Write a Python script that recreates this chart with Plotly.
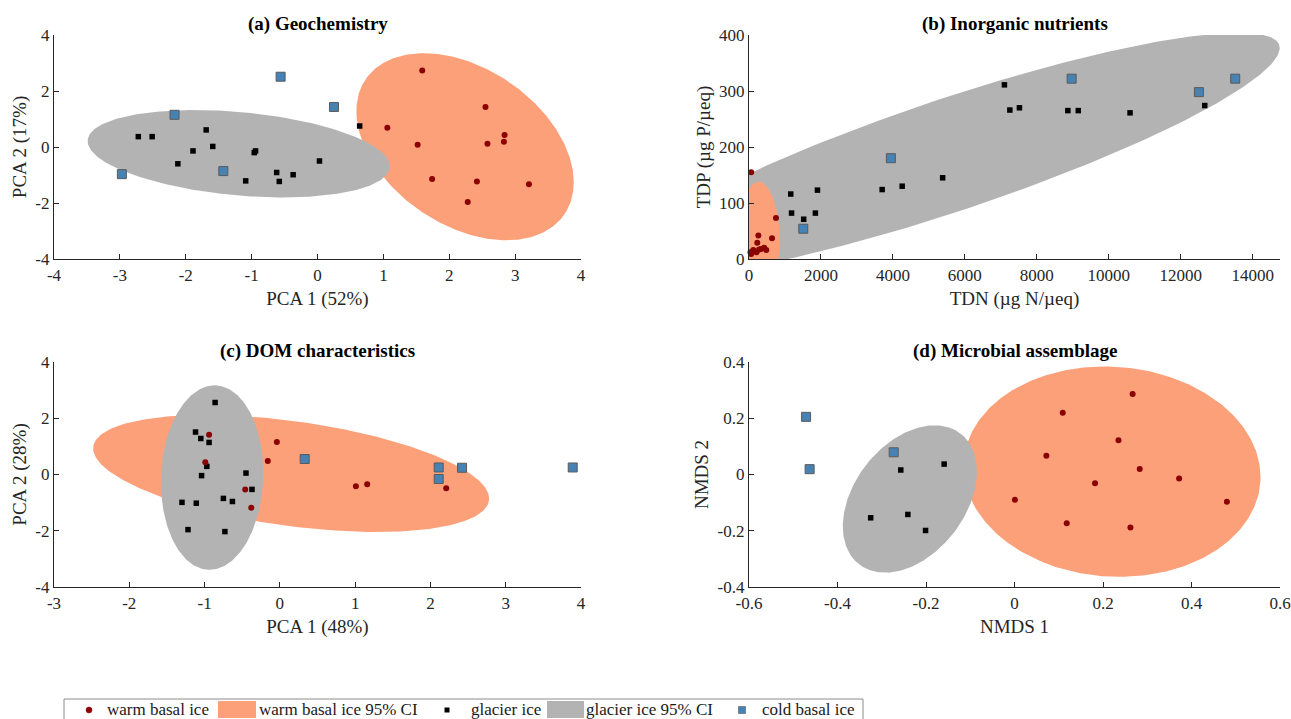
import numpy as np
import plotly.graph_objects as go

# ---------------- data ----------------
# (a) Geochemistry
a_warm_x = [1.59, 2.55, 1.06, 2.84, 2.83, 2.58, 1.52, 1.74, 2.42, 3.21, 2.28]
a_warm_y = [2.73, 1.43, 0.69, 0.43, 0.19, 0.12, 0.08, -1.14, -1.23, -1.33, -1.96]
a_glac_x = [0.64, -2.72, -2.51, -1.69, -1.59, -1.89, -2.12, -0.96, -0.94, 0.03, -0.62, -0.37, -1.09, -0.58]
a_glac_y = [0.75, 0.37, 0.37, 0.61, 0.02, -0.14, -0.60, -0.20, -0.14, -0.50, -0.91, -0.99, -1.21, -1.23]
a_cold_x = [-0.56, 0.25, -2.17, -2.97, -1.43]
a_cold_y = [2.51, 1.43, 1.15, -0.97, -0.86]
# ellipse params: [centre x, centre y, half-width x, half-height y, correlation]
a_warm_ci = [2.24, 0.01, 1.65, 3.34, -0.38]
a_glac_ci = [-1.195, -0.24, 2.295, 1.56, -0.29]

# (b) Inorganic nutrients
b_warm_x = [60, 750, 640, 260, 230, 40, 120, 210, 280, 340, 420, 480, 60]
b_warm_y = [155, 73, 37, 42, 29, 12, 16, 12, 17, 18, 20, 16, 9]
b_glac_x = [1160, 1183, 1520, 1845, 1903, 3701, 4258, 5383, 7100, 7251, 7517, 8863, 9153, 10592, 12668]
b_glac_y = [116, 82, 71, 82, 123, 124, 130, 145, 311, 266, 270, 265, 265, 261, 274]
b_cold_x = [1508, 3944, 8968, 12506, 13515]
b_cold_y = [54, 180, 322, 298, 322]
b_warm_ci = [300, 36, 555, 102, -0.05]
b_glac_ci = [5606, 186, 9146, 218, 0.875]

# (c) DOM characteristics
c_warm_x = [-0.94, -0.99, -0.04, -0.16, -0.46, -0.38, 1.01, 1.16, 2.21]
c_warm_y = [1.41, 0.44, 1.16, 0.48, -0.53, -1.18, -0.42, -0.35, -0.49]
c_glac_x = [-0.86, -1.12, -1.05, -0.94, -0.97, -1.04, -0.45, -0.37, -1.30, -1.11, -0.75, -0.63, -1.22, -0.73]
c_glac_y = [2.56, 1.51, 1.28, 1.14, 0.29, -0.04, 0.05, -0.53, -0.99, -1.02, -0.85, -0.96, -1.96, -2.03]
c_cold_x = [0.33, 2.11, 2.11, 2.42, 3.89]
c_cold_y = [0.55, 0.25, -0.16, 0.24, 0.25]
c_warm_ci = [0.15, 0.035, 2.63, 2.08, -0.43]
c_glac_ci = [-0.90, -0.11, 0.68, 3.28, 0.05]

# (d) Microbial assemblage
d_warm_x = [0.267, 0.109, 0.235, 0.072, 0.283, 0.372, 0.182, 0.001, 0.480, 0.118, 0.262]
d_warm_y = [0.286, 0.220, 0.122, 0.067, 0.020, -0.014, -0.031, -0.090, -0.097, -0.173, -0.188]
d_glac_x = [-0.257, -0.159, -0.325, -0.241, -0.201]
d_glac_y = [0.016, 0.037, -0.154, -0.142, -0.199]
d_cold_x = [-0.471, -0.463, -0.273]
d_cold_y = [0.205, 0.019, 0.079]
d_warm_ci = [0.2205, 0.010, 0.3355, 0.374, -0.05]
d_glac_ci = [-0.2365, -0.087, 0.1515, 0.262, 0.37]

# tick labels
a_xticks = [-4, -3, -2, -1, 0, 1, 2, 3, 4]
a_xlabels = ["-4", "-3", "-2", "-1", "0", "1", "2", "3", "4"]
a_yticks = [-4, -2, 0, 2, 4]
a_ylabels = ["-4", "-2", "0", "2", "4"]
b_xticks = [0, 2000, 4000, 6000, 8000, 10000, 12000, 14000]
b_xlabels = ["0", "2000", "4000", "6000", "8000", "10000", "12000", "14000"]
b_yticks = [0, 100, 200, 300, 400]
b_ylabels = ["0", "100", "200", "300", "400"]
c_xticks = [-3, -2, -1, 0, 1, 2, 3, 4]
c_xlabels = ["-3", "-2", "-1", "0", "1", "2", "3", "4"]
c_yticks = a_yticks
c_ylabels = a_ylabels
d_xticks = [-0.6, -0.4, -0.2, 0, 0.2, 0.4, 0.6]
d_xlabels = ["-0.6", "-0.4", "-0.2", "0", "0.2", "0.4", "0.6"]
d_yticks = [-0.4, -0.2, 0, 0.2, 0.4]
d_ylabels = ["-0.4", "-0.2", "0", "0.2", "0.4"]

titles = ["(a) Geochemistry", "(b) Inorganic nutrients", "(c) DOM characteristics", "(d) Microbial assemblage"]
x_titles = ["PCA 1 (52%)", "TDN (µg N/µeq)", "PCA 1 (48%)", "NMDS 1"]
y_titles = ["PCA 2 (17%)", "TDP (µg P/µeq)", "PCA 2 (28%)", "NMDS 2"]
legend_labels = ["warm basal ice", "warm basal ice 95% CI", "glacier ice", "glacier ice 95% CI", "cold basal ice"]

# ---------------- style ----------------
W, H = 1291, 719
FONT = "Liberation Serif"
AX = "#262626"
WARM = "#8b0000"
WARM_CI = "#fca07a"
GLAC = "#000000"
GLAC_CI = "#b3b3b3"
COLD = "#4682b4"
COLD_EDGE = "#5a5a5a"


def fx(p):
    return p / W


def fy(p):
    return 1 - p / H


left_dom = [fx(54), fx(581)]
right_dom = [fx(749), fx(1280)]
top_dom = [fy(259), fy(35)]
bot_dom = [fy(587), fy(362)]


def ellipse(p, n=300):
    cx, cy, hx, hy, r = p
    t = np.linspace(0, 2 * np.pi, n)
    x = cx + hx * np.cos(t)
    y = cy + hy * (r * np.cos(t) + np.sqrt(1 - r * r) * np.sin(t))
    return x, y


panels = [
    dict(k="", xdom=left_dom, ydom=top_dom, xr=[-4, 4], yr=[-4, 4],
         xt=(a_xticks, a_xlabels), yt=(a_yticks, a_ylabels),
         warm=(a_warm_x, a_warm_y), glac=(a_glac_x, a_glac_y), cold=(a_cold_x, a_cold_y),
         wci=a_warm_ci, gci=a_glac_ci, gray_on_top=True),
    dict(k="2", xdom=right_dom, ydom=top_dom, xr=[0, 14760], yr=[0, 400],
         xt=(b_xticks, b_xlabels), yt=(b_yticks, b_ylabels),
         warm=(b_warm_x, b_warm_y), glac=(b_glac_x, b_glac_y), cold=(b_cold_x, b_cold_y),
         wci=b_warm_ci, gci=b_glac_ci, gray_on_top=False),
    dict(k="3", xdom=left_dom, ydom=bot_dom, xr=[-3, 4], yr=[-4, 4],
         xt=(c_xticks, c_xlabels), yt=(c_yticks, c_ylabels),
         warm=(c_warm_x, c_warm_y), glac=(c_glac_x, c_glac_y), cold=(c_cold_x, c_cold_y),
         wci=c_warm_ci, gci=c_glac_ci, gray_on_top=True),
    dict(k="4", xdom=right_dom, ydom=bot_dom, xr=[-0.6, 0.6], yr=[-0.4, 0.4],
         xt=(d_xticks, d_xlabels), yt=(d_yticks, d_ylabels),
         warm=(d_warm_x, d_warm_y), glac=(d_glac_x, d_glac_y), cold=(d_cold_x, d_cold_y),
         wci=d_warm_ci, gci=d_glac_ci, gray_on_top=True),
]

fig = go.Figure()
layout = dict(
    width=W, height=H, autosize=False,
    margin=dict(l=0, r=0, t=0, b=0, autoexpand=False),
    paper_bgcolor="white", plot_bgcolor="white",
    showlegend=False,
    font=dict(family=FONT, size=17, color=AX),
)
annotations = []
shapes = []

for i, p in enumerate(panels):
    xa, ya = "x" + p["k"], "y" + p["k"]
    wx, wy = ellipse(p["wci"])
    gx, gy = ellipse(p["gci"])
    warm_fill = go.Scatter(x=wx, y=wy, mode="lines", fill="toself", fillcolor=WARM_CI,
                           line=dict(width=0, color=WARM_CI), hoverinfo="skip", xaxis=xa, yaxis=ya)
    glac_fill = go.Scatter(x=gx, y=gy, mode="lines", fill="toself", fillcolor=GLAC_CI,
                           line=dict(width=0, color=GLAC_CI), hoverinfo="skip", xaxis=xa, yaxis=ya)
    if p["gray_on_top"]:
        fig.add_trace(warm_fill)
        fig.add_trace(glac_fill)
    else:
        fig.add_trace(glac_fill)
        fig.add_trace(warm_fill)
    fig.add_trace(go.Scatter(x=p["cold"][0], y=p["cold"][1], mode="markers", cliponaxis=False,
                             marker=dict(symbol="square", size=9, color=COLD,
                                         line=dict(width=1, color=COLD_EDGE)),
                             xaxis=xa, yaxis=ya, name=legend_labels[4]))
    fig.add_trace(go.Scatter(x=p["glac"][0], y=p["glac"][1], mode="markers", cliponaxis=False,
                             marker=dict(symbol="square", size=5.5, color=GLAC),
                             xaxis=xa, yaxis=ya, name=legend_labels[2]))
    fig.add_trace(go.Scatter(x=p["warm"][0], y=p["warm"][1], mode="markers", cliponaxis=False,
                             marker=dict(symbol="circle", size=6, color=WARM),
                             xaxis=xa, yaxis=ya, name=legend_labels[0]))

    axis_common = dict(showgrid=False, zeroline=False, showline=True, linecolor=AX, linewidth=1.4,
                       ticks="inside", ticklen=5, tickwidth=1.2, tickcolor=AX, mirror=False,
                       automargin=False,
                       tickfont=dict(family=FONT, size=17, color=AX))
    xkey = "xaxis" + p["k"]
    ykey = "yaxis" + p["k"]
    layout[xkey] = dict(axis_common, domain=p["xdom"], range=p["xr"], anchor=ya,
                        tickmode="array", tickvals=p["xt"][0], ticktext=p["xt"][1],
                        title=dict(text=x_titles[i], font=dict(family=FONT, size=19, color=AX), standoff=8))
    layout[ykey] = dict(axis_common, domain=p["ydom"], range=p["yr"], anchor=xa,
                        tickmode="array", tickvals=p["yt"][0], ticktext=p["yt"][1],
                        title=dict(text=y_titles[i], font=dict(family=FONT, size=19, color=AX), standoff=3))
    annotations.append(dict(text="<b>" + titles[i] + "</b>", xref="paper", yref="paper",
                            x=(p["xdom"][0] + p["xdom"][1]) / 2, y=p["ydom"][1] + fy(24) - fy(35),
                            xanchor="center", yanchor="middle", showarrow=False,
                            font=dict(family=FONT, size=19, color="black")))

# ---------------- manual legend (bottom) ----------------
ly = 710
shapes.append(dict(type="rect", xref="paper", yref="paper", x0=fx(64), x1=fx(863), y0=fy(740), y1=fy(699),
                   line=dict(color="#8c8c8c", width=1), fillcolor="white", layer="above"))
shapes.append(dict(type="circle", xref="paper", yref="paper", x0=fx(86), x1=fx(92), y0=fy(ly + 3), y1=fy(ly - 3),
                   line=dict(color=WARM, width=0.5), fillcolor=WARM))
shapes.append(dict(type="rect", xref="paper", yref="paper", x0=fx(218), x1=fx(256), y0=fy(718), y1=fy(701),
                   line=dict(width=0), fillcolor=WARM_CI))
shapes.append(dict(type="rect", xref="paper", yref="paper", x0=fx(444.5), x1=fx(449.5), y0=fy(ly + 2.5), y1=fy(ly - 2.5),
                   line=dict(width=0), fillcolor=GLAC))
shapes.append(dict(type="rect", xref="paper", yref="paper", x0=fx(547), x1=fx(584), y0=fy(718), y1=fy(701),
                   line=dict(width=0), fillcolor=GLAC_CI))
shapes.append(dict(type="rect", xref="paper", yref="paper", x0=fx(738.5), x1=fx(745.5), y0=fy(ly + 3.5), y1=fy(ly - 3.5),
                   line=dict(color=COLD_EDGE, width=0.6), fillcolor=COLD))
legend_x = [106, 258, 470, 585, 761]
for lab, lx in zip(legend_labels, legend_x):
    annotations.append(dict(text=lab, xref="paper", yref="paper", x=fx(lx), y=fy(ly - 1),
                            xanchor="left", yanchor="middle", showarrow=False, borderpad=0,
                            font=dict(family=FONT, size=17, color="#1a1a1a")))

layout["annotations"] = annotations
layout["shapes"] = shapes
fig.update_layout(**layout)

fig.write_html("out.html", config={"displayModeBar": False},
               post_script="document.body.style.margin='0';document.body.style.overflow='hidden';")
